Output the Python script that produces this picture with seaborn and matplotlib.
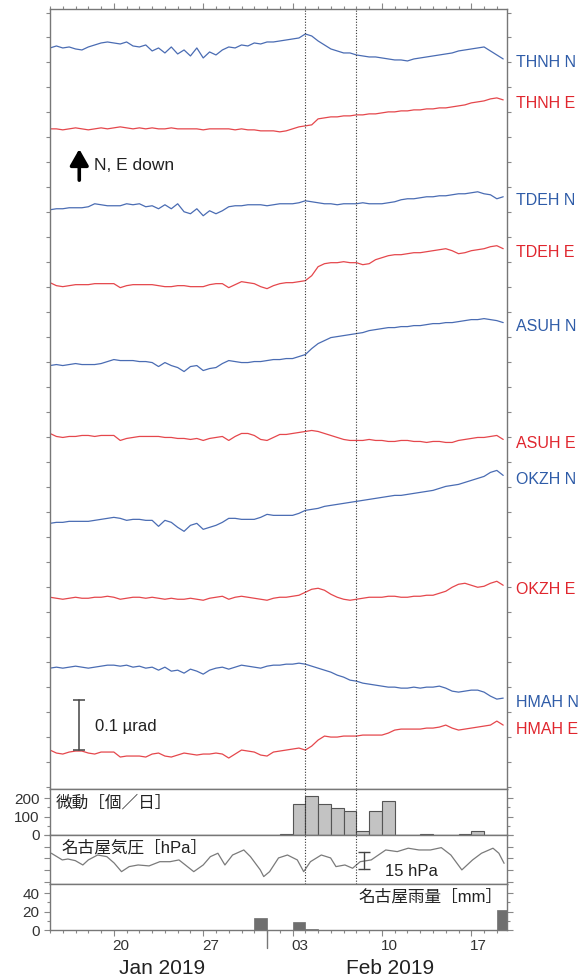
import numpy as np
import pandas as pd
import seaborn as sns
import matplotlib
matplotlib.use("Agg")
import matplotlib.pyplot as plt
import matplotlib.dates as mdates
from matplotlib.transforms import blended_transform_factory

# ---- data ----
start = pd.Timestamp("2019-01-15")

# tilt: deviation in nrad, one sample every 12 h from Jan 15 00:00
thnh_n = [-4, 0, -4, -2, -6, -8, -2, 2, 6, 8, 6, 4, 8, 0, -2, 2, -10, -4, -14, -2,
          -16, -8, -20, -4, -24, -12, -18, -8, -2, -4, 2, 0, 6, 4, 8, 8, 10, 12, 14, 16,
          24, 20, 10, 2, -6, -10, -14, -14, -18, -20, -22, -22, -24, -26, -28, -28, -30, -26, -24, -22,
          -20, -18, -16, -14, -10, -8, -6, -4, -2, -10, -18, -26]
thnh_e = [0, 0, -2, 0, 2, 0, -2, 0, 2, 0, 2, 4, 2, 0, 2, 0, 2, 0, 0, 2,
          0, 0, 0, 0, -2, 0, 0, 0, 0, -2, 0, -2, -2, -4, -4, -4, -6, -4, 0, 4,
          6, 8, 20, 22, 24, 24, 26, 26, 28, 28, 30, 30, 32, 34, 34, 36, 36, 38, 38, 40,
          40, 42, 42, 44, 46, 48, 52, 54, 56, 60, 62, 58]
tdeh_n = [-2, 0, 0, 2, 2, 2, 4, 10, 8, 6, 6, 6, 10, 8, 10, 4, 6, 0, 8, 0,
          10, -6, -10, 0, -14, -4, -10, -4, 4, 6, 6, 8, 8, 8, 6, 8, 10, 10, 10, 12,
          16, 14, 12, 10, 10, 8, 10, 10, 10, 12, 10, 10, 10, 12, 14, 18, 20, 20, 22, 24,
          24, 26, 26, 28, 30, 30, 32, 34, 30, 28, 20, 24]
tdeh_e = [2, -4, -6, -4, -2, -2, -2, 0, 0, 0, 0, -8, -4, -2, -2, -2, -2, -4, -6, -6,
          -4, -4, -6, -6, -6, -2, 0, 0, -8, -2, 4, 2, 0, -6, -10, -4, 0, 2, 2, 4,
          6, 16, 34, 40, 42, 42, 44, 42, 42, 38, 40, 48, 52, 56, 58, 58, 60, 62, 62, 64,
          66, 68, 70, 66, 60, 62, 66, 68, 70, 74, 76, 70]
asuh_n = [0, 2, 0, 2, 4, 2, 2, 2, 4, 8, 12, 10, 10, 10, 8, 8, 6, -2, 6, 0,
          -4, -12, -2, 0, -10, -6, -4, 4, 10, 8, 6, 6, 8, 8, 10, 12, 12, 14, 14, 18,
          22, 34, 44, 50, 56, 58, 60, 62, 64, 66, 70, 72, 74, 76, 76, 78, 78, 80, 80, 82,
          84, 84, 86, 86, 88, 90, 92, 92, 94, 92, 90, 86]
asuh_e = [0, -6, -8, -6, -6, -4, -4, -6, -4, -4, -4, -14, -10, -8, -6, -6, -6, -6, -8, -8,
          -10, -10, -12, -10, -14, -10, -8, -6, -14, -6, 0, 0, -4, -12, -14, -8, -2, -2, 0, 2,
          4, 6, 4, 0, -4, -8, -12, -14, -14, -14, -12, -14, -14, -16, -16, -14, -14, -16, -16, -18,
          -16, -16, -18, -18, -14, -12, -10, -8, -8, -6, -4, -12]
okzh_n = [-2, 0, 0, 2, 2, 2, 2, 4, 6, 8, 10, 8, 4, 6, 6, 4, 4, -8, 4, 0,
          -10, -18, -6, -2, -14, -10, -6, 0, 8, 8, 6, 6, 6, 10, 16, 14, 14, 14, 14, 18,
          24, 26, 28, 32, 34, 36, 38, 40, 42, 44, 46, 48, 50, 52, 54, 54, 56, 58, 60, 62,
          64, 68, 72, 74, 76, 80, 84, 88, 92, 100, 104, 94]
okzh_e = [0, -2, -4, -2, 0, -2, -2, 0, 0, 2, 0, -4, -2, 0, 0, -2, 0, -2, -4, -2,
          -4, -4, -2, -4, -6, -2, 0, 2, -4, 0, 2, 0, -2, -4, -6, -2, 0, 0, 2, 4,
          10, 16, 18, 14, 6, 0, -4, -6, -4, -2, 0, 0, 0, 2, 2, 0, 0, 2, 2, 4,
          4, 8, 12, 20, 26, 28, 24, 20, 22, 28, 32, 24]
hmah_n = [0, 2, 0, 2, 4, 2, 0, 2, 4, 6, 6, 4, 6, 2, 4, 0, 2, -4, 2, -6,
          -4, -10, -2, -6, -12, -4, 0, 2, -2, 2, 6, 4, 2, 0, 4, 6, 6, 8, 8, 10,
          8, 4, 0, -4, -8, -14, -18, -24, -26, -30, -32, -34, -36, -38, -38, -40, -40, -38, -40, -38,
          -38, -36, -40, -46, -48, -46, -44, -44, -48, -56, -62, -60]
hmah_e = [0, -6, -8, -4, -2, -2, -6, -8, -4, -4, -4, -14, -12, -12, -12, -14, -8, -6, -12, -14,
          -10, -6, -8, -10, -8, -8, -6, -8, -16, -8, 0, -2, -4, -10, -12, -4, -2, 0, 2, 4,
          0, 8, 20, 28, 26, 26, 28, 28, 28, 30, 30, 30, 30, 34, 40, 42, 42, 42, 42, 44,
          44, 46, 50, 44, 40, 42, 44, 46, 48, 50, 58, 50]

stations = ["THNH N", "THNH E", "TDEH N", "TDEH E", "ASUH N",
            "ASUH E", "OKZH N", "OKZH E", "HMAH N", "HMAH E"]
tilt = [thnh_n, thnh_e, tdeh_n, tdeh_e, asuh_n, asuh_e, okzh_n, okzh_e, hmah_n, hmah_e]
# stacking offsets of the traces (nrad)
offsets = [1483, 1317, 1157, 1007, 843, 707, 529, 379, 237, 73]

# Nagoya pressure: (days after Jan 15, hPa)
pres_days = [0.1, 0.54, 0.96, 1.4, 1.98, 2.57, 3.0, 3.73, 4.45, 5.02, 5.6, 6.2, 6.9, 7.76,
             8.6, 9.4, 10.1, 10.6, 11.26, 12.0, 12.56, 13.15, 13.7, 14.3, 15.18, 15.7,
             16.47, 16.74, 17.2, 17.9, 18.6, 19.37, 19.87, 20.4, 21.25, 21.98, 22.4, 23.1,
             23.7, 24.3, 25.16, 26.3, 27.2, 28.06, 28.9, 29.8, 30.65, 31.4, 32.26, 33.1,
             33.8, 34.7, 35.16, 35.57]
pres_hpa = [1014.4, 1011.5, 1008.7, 1009.5, 1008.1, 1004.4, 1008.7, 1012.9, 1011.5, 1006.1,
            998.7, 1003.0, 1004.4, 1003.6, 1007.2, 1007.2, 1008.7, 1004.4, 998.7, 1004.4,
            1011.5, 1014.4, 1004.4, 1012.9, 1017.2, 1011.5, 1000.2, 994.5, 998.7, 1010.4,
            1012.9, 1008.7, 998.7, 1007.2, 1012.9, 1010.4, 1003.0, 1004.4, 1001.6, 1007.2,
            1008.7, 1017.2, 1015.8, 1018.7, 1017.2, 1017.2, 1019.2, 1012.9, 1000.2, 1008.7,
            1014.4, 1018.7, 1014.4, 1005.8]

# tremor count per day
tremor_dates = ["2019-02-02", "2019-02-03", "2019-02-04", "2019-02-05", "2019-02-06",
                "2019-02-07", "2019-02-08", "2019-02-09", "2019-02-10", "2019-02-13",
                "2019-02-16", "2019-02-17"]
tremor_counts = [3, 168, 211, 171, 144, 131, 22, 131, 185, 3, 3, 23]

# Nagoya daily rainfall (mm)
rain_dates = ["2019-01-31", "2019-02-03", "2019-02-04", "2019-02-19"]
rain_mm = [13, 9, 1, 22]

tick_days = ["2019-01-20", "2019-01-27", "2019-02-03", "2019-02-10", "2019-02-17"]
tick_labels = ["20", "27", "03", "10", "17"]
event_days = ["2019-02-04", "2019-02-08"]

# ---- plot ----
sns.set_theme(style="white")
plt.rcParams["font.family"] = ["Liberation Sans", "Noto Sans CJK JP"]

blue, red = "#4a6cb3", "#e5474c"
blue_t, red_t = "#2f5ca8", "#e0262e"
t0 = mdates.date2num(start)


def num(d):
    return mdates.date2num(pd.to_datetime(d))


fig = plt.figure(figsize=(5.83, 9.8), dpi=100)
L, W = 0.0858, 0.7839
ax = fig.add_axes([L, 0.1949, W, 0.7959])
ax_t = fig.add_axes([L, 0.1480, W, 0.0469], sharex=ax)
ax_p = fig.add_axes([L, 0.0980, W, 0.0500], sharex=ax)
ax_r = fig.add_axes([L, 0.0510, W, 0.0469], sharex=ax)

tilt_x = t0 + np.arange(len(thnh_n)) * 0.5
for name, vals, off in zip(stations, tilt, offsets):
    col = blue if name.endswith("N") else red
    y = off + np.array(vals)
    sns.lineplot(x=tilt_x, y=y, ax=ax, color=col, lw=0.9)
    ax.text(1.02, y[-1] - 8, name, transform=blended_transform_factory(ax.transAxes, ax.transData),
            color=blue_t if name.endswith("N") else red_t, fontsize=11.5, va="center", ha="left",
            clip_on=False)

ax.set_ylim(-5, 1557)
ax.set_yticks(np.arange(0, 1560, 50))

ax.annotate("", xy=(0.064, 0.824), xytext=(0.064, 0.777), xycoords="axes fraction",
            arrowprops=dict(arrowstyle="-|>,head_length=0.7,head_width=0.4", lw=2.6,
                            color="black", mutation_scale=14))
ax.text(0.097, 0.80, "N, E down", transform=ax.transAxes, fontsize=12.5, va="center", color="#222")

bt = blended_transform_factory(ax.transAxes, ax.transData)
ax.plot([0.064, 0.064], [73, 173], transform=bt, color="#444", lw=1.1)
ax.plot([0.064, 0.064], [73, 173], transform=bt, color="#444", marker="_", ms=9, mew=1.1, ls="none")
ax.text(0.098, 121, "0.1 µrad", transform=bt, fontsize=12, va="center", color="#222")

# tremor
day0, day1 = num("2019-01-15"), num("2019-02-20")
tremor_df = pd.DataFrame({"x": num(tremor_dates) + 0.5, "w": tremor_counts})
sns.histplot(data=tremor_df, x="x", weights="w", binwidth=1, binrange=(day0, day1), ax=ax_t,
             color="#c3c3c3", edgecolor="#555555", linewidth=0.8, alpha=1)
ax_t.set_ylim(0, 250)
ax_t.set_yticks([0, 100, 200])
ax_t.set_yticks([50, 150], minor=True)
ax_t.set_ylabel("")
ax_t.text(0.012, 0.71, "微動［個／日］", transform=ax_t.transAxes, fontsize=12, va="center", color="#222")

# pressure
sns.lineplot(x=t0 + np.array(pres_days), y=pres_hpa, ax=ax_p, color="#7a7a7a", lw=0.9)
ax_p.set_ylim(988.2, 1030)
ax_p.set_yticks([990, 1000, 1010, 1020, 1030])
ax_p.text(0.025, 0.74, "名古屋気圧［hPa］", transform=ax_p.transAxes, fontsize=12, va="center", color="#222")
xb = t0 + 24.63
ax_p.plot([xb, xb], [1000.8, 1015.8], color="#444", lw=1.0)
ax_p.plot([xb, xb], [1000.8, 1015.8], color="#444", marker="_", ms=8, mew=1.0, ls="none")
ax_p.text(xb + 1.6, 998.5, "15 hPa", fontsize=12, va="center", color="#222")

# rain
rain_df = pd.DataFrame({"x": num(rain_dates) + 0.5, "w": rain_mm})
sns.histplot(data=rain_df, x="x", weights="w", binwidth=1, binrange=(day0, day1), ax=ax_r,
             color="#6f6f6f", edgecolor="#6f6f6f", linewidth=0.5, alpha=1)
ax_r.set_ylim(0, 50)
ax_r.set_yticks([0, 20, 40])
ax_r.set_yticks([10, 30], minor=True)
ax_r.set_ylabel("")
ax_r.text(0.99, 0.72, "名古屋雨量［mm］", transform=ax_r.transAxes, fontsize=12, va="center",
          ha="right", color="#222")

for d in event_days:
    for a in (ax, ax_t, ax_p):
        a.axvline(num(d), ls=(0, (1, 1.5)), color="#333", lw=0.8)

ax.set_xlim(t0 + 0.1, t0 + 35.8)
ax.set_xticks(num(tick_days))
ax.set_xticks(num(pd.date_range("2019-01-15", "2019-02-19")), minor=True)
ax.xaxis.set_major_formatter(plt.NullFormatter())

for a in (ax, ax_t, ax_p, ax_r):
    for s in a.spines.values():
        s.set_color("#777777")
        s.set_linewidth(1.0)
    a.tick_params(which="both", direction="out", colors="#888888", labelcolor="#333333",
                  labelsize=11, width=0.8)
    a.tick_params(which="major", length=4)
    a.tick_params(which="minor", length=2.5)
    a.set_xlabel("")
    a.tick_params(axis="y", which="both", left=True, right=True)
    a.tick_params(axis="x", which="both", bottom=False, top=False, labelbottom=False)
ax.tick_params(axis="y", which="both", labelleft=False, length=3)
ax.tick_params(axis="x", which="both", top=True)
ax_p.tick_params(axis="y", labelleft=False)
ax_r.tick_params(axis="x", which="both", bottom=True)

xt = ax_r.get_xaxis_transform()
for d, lab in zip(tick_days, tick_labels):
    ax_r.text(num(d) + 0.55, -0.2, lab, transform=xt, ha="center", va="top", fontsize=11, color="#333")
ax_r.plot([num("2019-02-01")] * 2, [0, -0.4], transform=xt, color="#777", lw=1.0, clip_on=False)
ax_r.text(t0 + 8.75, -0.62, "Jan 2019", transform=xt, ha="center", va="top", fontsize=15, color="#222")
ax_r.text(t0 + 26.65, -0.62, "Feb 2019", transform=xt, ha="center", va="top", fontsize=15, color="#222")

fig.savefig("out.png", dpi=100)
